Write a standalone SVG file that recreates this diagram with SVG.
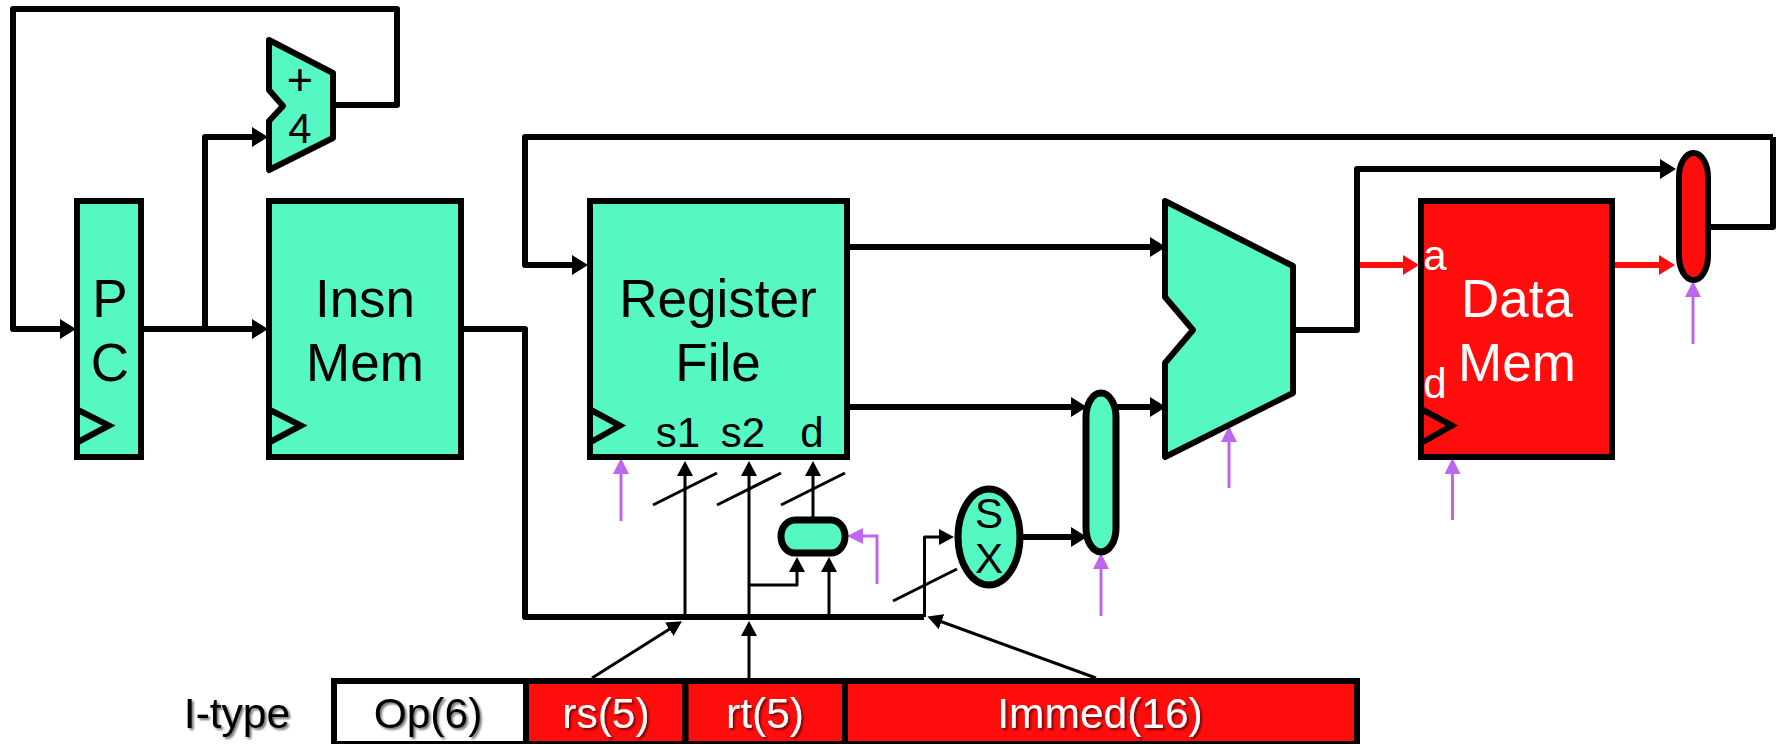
<svg xmlns="http://www.w3.org/2000/svg" width="1777" height="744" viewBox="0 0 1777 744">
<style>
text{font-family:"Liberation Sans",Arial,sans-serif;text-anchor:middle;fill:#000}
.t{fill:#55F7C3;stroke:#000;stroke-width:6;stroke-linejoin:round}
.tm{stroke-linejoin:miter}
.pill{stroke-width:7}
.r{fill:#FF0D0D;stroke:#000;stroke-width:6}
.w{fill:#fff;stroke:#000;stroke-width:6}
.ck{fill:none;stroke:#000;stroke-width:6;stroke-linejoin:miter}
.f53{font-size:53px}
.f45{font-size:45px}
.f42{font-size:42px}
.f425{font-size:42.500px}
.wt{fill:#fff}
.sh{filter:url(#shadow)}
.c{fill:none;stroke:#000;stroke-width:6;stroke-linejoin:round;stroke-linecap:butt}
.n{fill:none;stroke:#000;stroke-width:3;stroke-linejoin:round}
.rd{fill:none;stroke:#FF0D0D;stroke-width:6}
.p{fill:none;stroke:#BF66EE;stroke-width:3;stroke-linejoin:miter}
.a{marker-end:url(#big)}
.an{marker-end:url(#small)}
.ar{marker-end:url(#red)}
.ap{marker-end:url(#pur)}
</style>
<defs>
<filter id="shadow" x="-20%" y="-20%" width="140%" height="140%"><feDropShadow dx="2" dy="2" stdDeviation="1" flood-color="#000" flood-opacity="0.55"/></filter>
<marker id="big" markerUnits="userSpaceOnUse" markerWidth="16" markerHeight="20" viewBox="0 0 16 20" refX="8" refY="10" orient="auto"><path d="M0 0L16 10L0 20Z" fill="#000"/></marker>
<marker id="small" markerUnits="userSpaceOnUse" markerWidth="15" markerHeight="16" viewBox="0 0 15 16" refX="8" refY="8" orient="auto"><path d="M0 0L15 8L0 16Z" fill="#000"/></marker>
<marker id="red" markerUnits="userSpaceOnUse" markerWidth="16" markerHeight="20" viewBox="0 0 16 20" refX="8" refY="10" orient="auto"><path d="M0 0L16 10L0 20Z" fill="#FF0D0D"/></marker>
<marker id="pur" markerUnits="userSpaceOnUse" markerWidth="16" markerHeight="16" viewBox="0 0 16 16" refX="8" refY="8" orient="auto"><path d="M0 0L16 8L0 16Z" fill="#BF66EE"/></marker>
</defs>
<g id="connectors">
<path class="c a" d="M333 105H397V9H13V329H68"/>
<path class="c a" d="M205 329V137H260"/>
<path class="c a" d="M144 329H260"/>
<path class="c" d="M464 329H525V617H924"/>
<path class="c a" d="M1773 137H525V265H580"/>
<path class="c" d="M1707 227H1773V137"/>
<path class="c a" d="M847 247H1158"/>
<path class="c a" d="M847 407H1079"/>
<path class="c a" d="M1116 407H1158"/>
<path class="c a" d="M1022 537H1079"/>
<path class="c a" d="M1293 330H1357V169H1668"/>
<path class="rd ar" d="M1360 265H1411"/>
<path class="rd ar" d="M1614 265H1667"/>
<path class="n an" d="M685 617V468"/>
<path class="n an" d="M749 617V468"/>
<path class="n an" d="M813 518V468"/>
<path class="n an" d="M749 585H797V564"/>
<path class="n an" d="M829 617V564"/>
<path class="n an" d="M924.500 617V537H947"/>
<path class="n" d="M653 505L717 473"/>
<path class="n" d="M717 505L781 473"/>
<path class="n" d="M781 505L845 473"/>
<path class="n" d="M893 601L957 569"/>
<path class="n an" d="M592 678L676 625"/>
<path class="n an" d="M749 678V628"/>
<path class="n an" d="M1096 678L934 619"/>
<path class="p ap" d="M621 521V466"/>
<path class="p ap" d="M877 584V536H855"/>
<path class="p ap" d="M1101 616V561"/>
<path class="p ap" d="M1229 488V434"/>
<path class="p ap" d="M1452.500 520V466"/>
<path class="p ap" d="M1693 344V289"/>
</g>
<g id="pc"><rect class="t tm" x="77" y="201" width="64" height="256"/><path class="ck" d="M78 410L109 425.500L78 442"/><text class="f53" x="110" y="317">P</text><text class="f53" x="110" y="381">C</text></g>
<g id="adder"><path class="t" d="M269 40L333 73V138L269 170V121L283 106L269 90Z"/><text class="f45" x="300" y="95">+</text><text class="f42" x="300" y="143">4</text></g>
<g id="insn-mem"><rect class="t tm" x="269" y="201" width="192" height="256"/><path class="ck" d="M270 410L301 425.500L270 442"/><text class="f53" x="365" y="317">Insn</text><text class="f53" x="365" y="381">Mem</text></g>
<g id="register-file"><rect class="t tm" x="590" y="201" width="257" height="256"/><path class="ck" d="M591 410L620 425.500L591 442"/><text class="f53" x="718" y="317">Register</text><text class="f53" x="718" y="381">File</text><text class="f42" x="678" y="447">s1</text><text class="f42" x="743" y="447">s2</text><text class="f42" x="812" y="447">d</text></g>
<g id="alu"><path class="t" d="M1165 201L1293 266V393L1165 457V363L1193 330L1165 297Z"/></g>
<g id="data-mem"><rect class="r" x="1421" y="201" width="191" height="256"/><path class="ck" d="M1423 410L1452 425.500L1423 442"/><text class="f53 wt" x="1517" y="317">Data</text><text class="f53 wt" x="1517" y="381">Mem</text><text class="f42 wt" x="1435" y="270">a</text><text class="f42 wt" x="1435" y="398">d</text></g>
<g id="mem-mux"><rect class="r pill" x="1679" y="153" width="29" height="127" rx="14.500" ry="24"/></g>
<g id="alu-mux"><rect class="t pill" x="1086" y="393" width="30" height="159" rx="15" ry="24"/></g>
<g id="d-mux"><rect class="t pill" x="781" y="520" width="64" height="33" rx="14" ry="16.500"/></g>
<g id="sx"><ellipse class="t pill" cx="989" cy="537" rx="31" ry="48"/><text class="f42" x="989" y="528">S</text><text class="f42" x="989" y="573">X</text></g>
<g id="instruction">
<text class="f425 sh" x="237" y="728">I-type</text>
<rect class="w" x="334" y="681" width="192" height="63"/>
<rect class="r" x="526" y="681" width="159.500" height="63"/>
<rect class="r" x="685.500" y="681" width="159.500" height="63"/>
<rect class="r" x="845" y="681" width="512" height="63"/>
<text class="f425 sh" x="428" y="728">Op(6)</text>
<text class="f425 wt sh" x="606" y="728">rs(5)</text>
<text class="f425 wt sh" x="765" y="728">rt(5)</text>
<text class="f425 wt sh" x="1100" y="728">Immed(16)</text>
</g>
</svg>
